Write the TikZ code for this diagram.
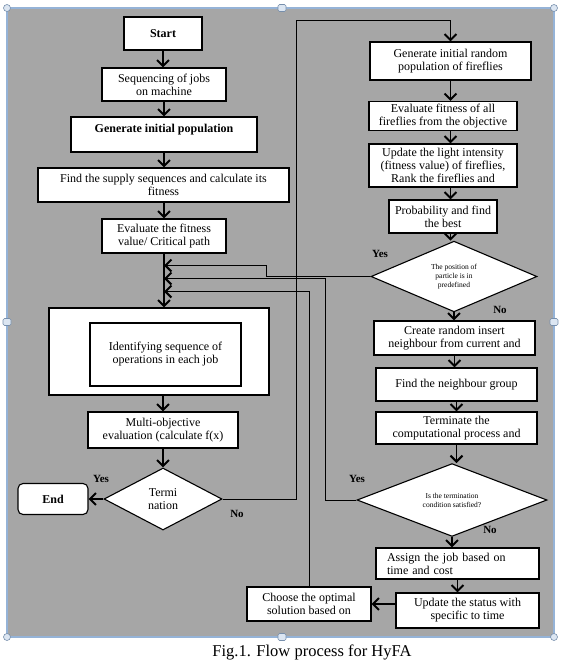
\documentclass[tikz,border=0pt]{standalone}
\usepackage{fontspec}
\setmainfont{Liberation Serif}
\usetikzlibrary{arrows.meta,shapes.geometric,calc}

\definecolor{panelgray}{RGB}{166,166,166}
\definecolor{panelblue}{RGB}{149,179,215}
\definecolor{handlefill}{RGB}{220,230,242}

\begin{document}
\begin{tikzpicture}[
    x=1pt, y=-1pt,
    >={Straight Barb[length=6pt,width=12pt,line width=2pt]},
    stepbox/.style={
        rectangle,
        draw=black,
        fill=white,
        line width=1.1pt,
        inner sep=1pt,
        font=\fontsize{12}{13}\selectfont,
        align=center
    },
    decision/.style={
        diamond,
        draw=black,
        fill=white,
        line width=1.1pt,
        inner sep=0pt,
        align=center
    },
    flow/.style={->, line width=1.3pt},
    back/.style={->, line width=0.9pt},
    answer/.style={font=\fontsize{11}{12}\selectfont\bfseries},
    handle/.style={draw=panelblue!80!black, fill=handlefill, line width=0.6pt}
]
\useasboundingbox (0,0) rectangle (564,666);

% canvas with its selection handles
\draw[panelblue, line width=1.5pt, fill=panelgray] (7,8) rectangle (554,637);
\foreach \hx/\hy in {7/8, 554/8, 7/637, 554/637}
    \draw[handle] (\hx,\hy) circle (3.5pt);
\foreach \hx/\hy in {282/8, 7/322, 554/322, 282/637}
    \draw[handle, rounded corners=1.5pt] ($(\hx,\hy)+(-4,-3.5)$) rectangle ++(8,7);

% --- left column ---
\node[stepbox, minimum width=78pt, minimum height=33pt, font=\fontsize{12}{13}\selectfont\bfseries] (start) at (163,33.5) {Start};
\node[stepbox, minimum width=124pt, minimum height=33pt] (seq) at (164,84.5) {Sequencing of jobs\\on machine};
\node[stepbox, minimum width=186pt, minimum height=35pt, font=\fontsize{12}{13}\selectfont\bfseries] (gen) at (164,134.5) {Generate initial population\\\mbox{}};
\node[stepbox, minimum width=251pt, minimum height=34pt] (find) at (163.5,185) {Find the supply sequences and calculate its\\fitness};
\node[stepbox, minimum width=124pt, minimum height=34pt] (evalcp) at (164,236) {Evaluate the fitness\\value/ Critical path};
\node[stepbox, minimum width=220pt, minimum height=87pt] (outer) at (159,351.5) {};
\node[stepbox, minimum width=151pt, minimum height=63pt] (inner) at (165.5,354.5) {Identifying sequence of\\operations in each job};
\node[stepbox, minimum width=150pt, minimum height=36pt] (multi) at (163,430) {Multi-objective\\evaluation (calculate f(x)};
\node[decision, minimum width=118pt, minimum height=62pt, font=\fontsize{12}{13}\selectfont] (term) at (163,499) {Termi\\nation};
\node[stepbox, rounded corners=5pt, minimum width=70pt, minimum height=31pt, font=\fontsize{12}{13}\selectfont\bfseries] (endbox) at (53,499) {End};

% --- right column ---
\node[stepbox, minimum width=161pt, minimum height=38pt] (genr) at (450.5,61) {Generate initial random\\population of fireflies};
\node[stepbox, minimum width=148pt, minimum height=29pt] (evalf) at (443,116) {Evaluate fitness of all\\fireflies from the objective};
\node[stepbox, minimum width=148pt, minimum height=43pt] (upd) at (443,165.5) {Update the light intensity\\(fitness value) of fireflies,\\Rank the fireflies and};
\node[stepbox, minimum width=108pt, minimum height=33pt] (prob) at (443,216.5) {Probability and find\\the best};
\node[decision, minimum width=166pt, minimum height=67pt, font=\fontsize{7.5}{9}\selectfont] (pos) at (454,276.5) {The position of\\particle is in\\predefined};
\node[stepbox, minimum width=161pt, minimum height=34pt] (create) at (454.5,338) {Create random insert\\neighbour from current and};
\node[stepbox, minimum width=161pt, minimum height=33pt] (findn) at (456.5,384.5) {Find the neighbour group};
\node[stepbox, minimum width=161pt, minimum height=32pt] (termc) at (456.5,428) {Terminate the\\computational process and};
\node[decision, minimum width=190pt, minimum height=54pt, font=\fontsize{7.5}{9}\selectfont] (cond) at (452,500) {Is the termination\\condition satisfied?};
\node[stepbox, minimum width=163pt, minimum height=31pt, text width=141pt, align=left] (assign) at (457.5,563.5) {Assign the job based on\\time and cost};
\node[stepbox, minimum width=143pt, minimum height=35pt] (update) at (467.5,610.5) {Update the status with\\specific to time};
\node[stepbox, minimum width=124pt, minimum height=34pt] (choose) at (309,604) {Choose the optimal\\solution based on};

% main flow, left
\draw[flow] (start.south) -- (start.south |- seq.north);
\draw[flow] (seq.south) -- (seq.south |- gen.north);
\draw[flow] (gen.south) -- (gen.south |- find.north);
\draw[flow] (find.south -| evalcp) -- (evalcp.north);
\draw[flow] (evalcp.south) -- (evalcp.south |- outer.north);
\draw[flow] (outer.south -| multi) -- (multi.north);
\draw[flow] (multi.south) -- (term.north);
\draw[flow] (term.west) -- (term.west -| endbox.east);

% main flow, right
\draw[flow] (genr.south) -- (genr.south |- evalf.north);
\draw[flow] (evalf.south -| genr) -- (genr |- upd.north);
\draw[flow] (upd.south -| genr) -- (genr |- prob.north);
\draw[flow] (prob.south -| genr) -- (genr |- pos.north);
\draw[flow] (pos.south) -- (pos.south |- create.north);
\draw[flow] (create.south) -- (create.south |- findn.north);
\draw[flow] (findn.south) -- (findn.south |- termc.north);
\draw[flow] (termc.south) -- (termc.south |- cond.north);
\draw[flow] (cond.south) -- (cond.south |- assign.north);
\draw[flow] (assign.south) -- (assign.south |- update.north);
\draw[flow] (choose.east -| update.west) -- (choose.east);

% loops back
\draw[back] (term.east) -- ++(74,0) |- ($(genr.north)+(0,-21)$) -- (genr.north);
\draw[back] (pos.west) -- ++(-104,0) |- ($(evalcp.south)+(0,12)$);
\draw[back] (cond.west) -- ++(-31,0) |- ($(evalcp.south)+(0,25)$);
\draw[back] (choose.north) |- ($(evalcp.south)+(0,38)$);

% yes / no
\node[answer] (yesterm) at (101,479) {Yes};
\node[answer] (noterm) at (237,514) {No};
\node[answer] (yespos) at (380,254) {Yes};
\node[answer] (nopos) at (500,310) {No};
\node[answer] (yescond) at (357,479) {Yes};
\node[answer] (nocond) at (490,530) {No};

\node[font=\fontsize{16.5}{18}\selectfont] (caption) at (312,652) {Fig.1. Flow process for HyFA};
\end{tikzpicture}
\end{document}
